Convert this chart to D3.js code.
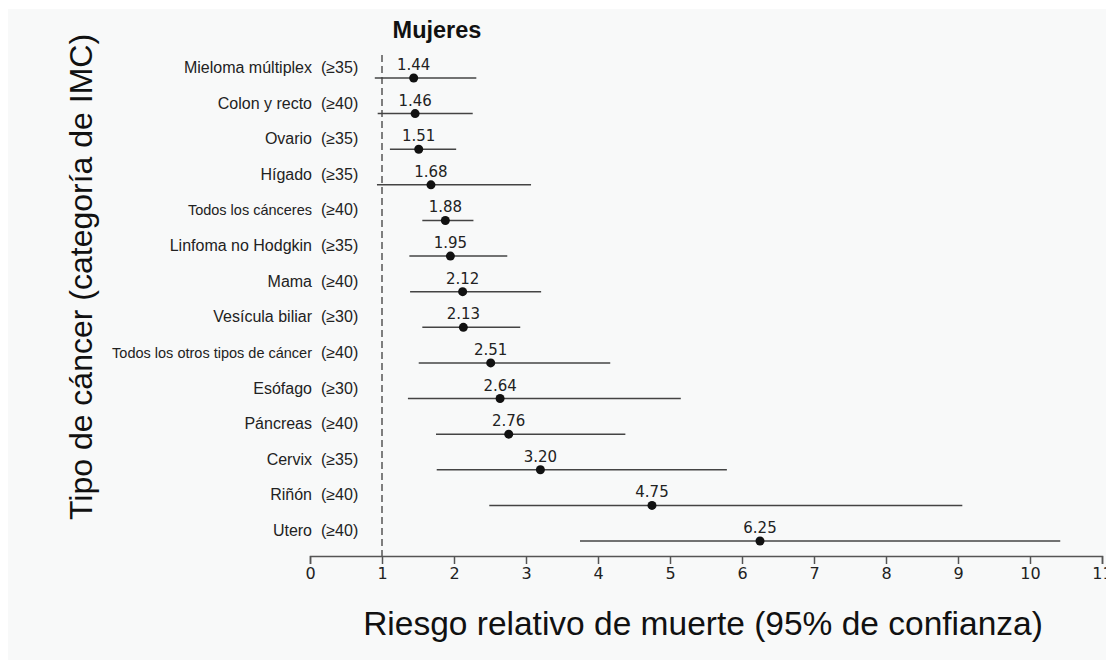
<!DOCTYPE html>
<html>
<head>
<meta charset="utf-8">
<script src="https://cdn.jsdelivr.net/npm/d3@7"></script>
<style>
  html, body { margin: 0; padding: 0; background: #ffffff; }
  svg { display: block; }
</style>
</head>
<body>
<svg id="chart" width="1106" height="660"></svg>
<script>
// ---- data ----
const cancerTypes = [
  "Mieloma múltiplex", "Colon y recto", "Ovario", "Hígado", "Todos los cánceres",
  "Linfoma no Hodgkin", "Mama", "Vesícula biliar", "Todos los otros tipos de cáncer",
  "Esófago", "Páncreas", "Cervix", "Riñón", "Utero"
];
const bmiCategories = ["(≥35)", "(≥40)", "(≥35)", "(≥35)", "(≥40)", "(≥35)", "(≥40)",
  "(≥30)", "(≥40)", "(≥30)", "(≥40)", "(≥35)", "(≥40)", "(≥40)"];
const relativeRisk = [1.44, 1.46, 1.51, 1.68, 1.88, 1.95, 2.12, 2.13, 2.51, 2.64, 2.76, 3.20, 4.75, 6.25];
const ciLower = [0.90, 0.94, 1.11, 0.93, 1.56, 1.38, 1.39, 1.56, 1.51, 1.36, 1.75, 1.76, 2.49, 3.75];
const ciUpper = [2.31, 2.26, 2.03, 3.07, 2.27, 2.74, 3.21, 2.92, 4.17, 5.15, 4.38, 5.79, 9.06, 10.42];
const xTicks = [0, 1, 2, 3, 4, 5, 6, 7, 8, 9, 10, 11];
const referenceValue = 1;
const chartTitle = "Mujeres";
const xTitle = "Riesgo relativo de muerte (95% de confianza)";
const yTitle = "Tipo de cáncer (categoría de IMC)";

// ---- drawing ----
const svg = d3.select("#chart");
svg.append("rect").attr("x", 8).attr("y", 9).attr("width", 1098).attr("height", 651)
  .attr("fill", "#f8f9f9");

const x = d3.scaleLinear().domain([0, 11]).range([310, 1102]);
const y = d3.scalePoint().domain(d3.range(cancerTypes.length)).range([78, 541]);
const axisY = 556;

// reference dashed line
svg.append("line")
  .attr("x1", x(referenceValue)).attr("x2", x(referenceValue))
  .attr("y1", 55).attr("y2", axisY)
  .attr("stroke", "#555").attr("stroke-width", 1.5)
  .attr("stroke-dasharray", "7,4");

// x axis
const axis = d3.axisBottom(x).tickValues(xTicks).tickSizeInner(8).tickSizeOuter(8).tickPadding(4)
  .tickFormat(d3.format("d"));
const gx = svg.append("g").attr("transform", `translate(0,${axisY})`).call(axis);
gx.select(".domain").attr("stroke", "#555").attr("stroke-width", 1.5);
gx.selectAll(".tick line").attr("stroke", "#555").attr("stroke-width", 1.5);
gx.selectAll(".tick text").attr("fill", "#222")
  .style("font-family", "'DejaVu Sans', sans-serif").style("font-size", "16px");

const rows = svg.append("g").selectAll("g").data(cancerTypes).join("g");

// CI lines
rows.append("line")
  .attr("x1", (d, i) => x(ciLower[i])).attr("x2", (d, i) => x(ciUpper[i]))
  .attr("y1", (d, i) => y(i)).attr("y2", (d, i) => y(i))
  .attr("stroke", "#444").attr("stroke-width", 1.5);

// points
rows.append("circle")
  .attr("cx", (d, i) => x(relativeRisk[i])).attr("cy", (d, i) => y(i))
  .attr("r", 4.5).attr("fill", "#111");

// value labels
rows.append("text")
  .attr("x", (d, i) => x(relativeRisk[i])).attr("y", (d, i) => y(i) - 8)
  .attr("text-anchor", "middle").attr("fill", "#222")
  .style("font-family", "'DejaVu Sans', sans-serif").style("font-size", "15px")
  .text((d, i) => relativeRisk[i].toFixed(2));

// category labels
const smallNames = new Set(["Todos los cánceres", "Todos los otros tipos de cáncer"]);
rows.append("text")
  .attr("x", 312).attr("y", (d, i) => y(i) - 5)
  .attr("text-anchor", "end").attr("fill", "#222")
  .style("font-family", "'Liberation Sans', Arial, sans-serif")
  .style("font-size", d => smallNames.has(d) ? "14.5px" : "16px")
  .text(d => d);
rows.append("text")
  .attr("x", 321).attr("y", (d, i) => y(i) - 5)
  .attr("text-anchor", "start").attr("fill", "#222")
  .style("font-family", "'Liberation Sans', Arial, sans-serif").style("font-size", "16px")
  .text((d, i) => bmiCategories[i]);

// titles
svg.append("text").attr("x", 437).attr("y", 38).attr("text-anchor", "middle")
  .attr("fill", "#111").style("font-family", "'Liberation Sans', Arial, sans-serif")
  .style("font-size", "23.5px").style("font-weight", "bold").text(chartTitle);

svg.append("text").attr("x", 703).attr("y", 635).attr("text-anchor", "middle")
  .attr("fill", "#111").style("font-family", "'Liberation Sans', Arial, sans-serif")
  .style("font-size", "33.5px").text(xTitle);

svg.append("text").attr("transform", "translate(92,277) rotate(-90)")
  .attr("text-anchor", "middle").attr("fill", "#111")
  .style("font-family", "'Liberation Sans', Arial, sans-serif")
  .style("font-size", "32px").text(yTitle);
</script>
</body>
</html>
